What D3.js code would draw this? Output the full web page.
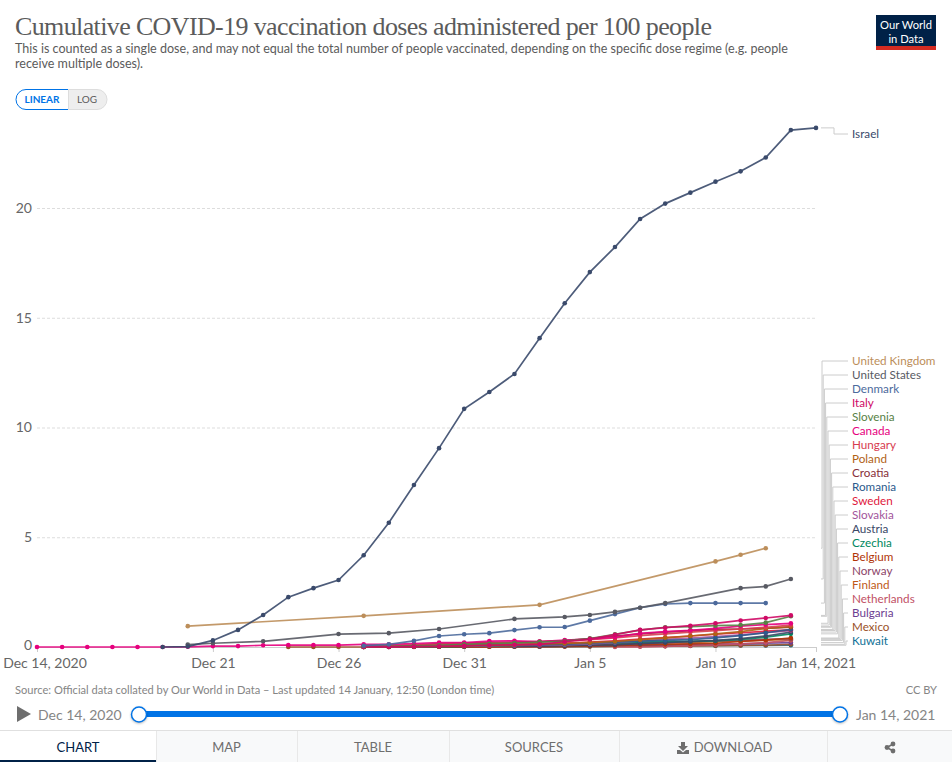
<!DOCTYPE html>
<html>
<head>
<meta charset="utf-8">
<style>
  html, body { margin: 0; padding: 0; background: #fff; }
  svg { display: block; }
  text { font-family: Lato, "Open Sans", sans-serif; }
</style>
</head>
<body>
<svg id="chart" width="952" height="762"></svg>
<script src="https://cdn.jsdelivr.net/npm/d3@7"></script>
<script>
// Values, one array per country, day by day from its start date.
// null = no report that day (the line just runs across it)
const israel = [0, 0.02, 0.3, 0.78, 1.46, 2.27, 2.68, 3.05, 4.18, 5.66, 7.38, 9.06, 10.85, 11.62, 12.44, 14.07, 15.66, 17.08, 18.22, 19.5, 20.2, 20.7, 21.2, 21.67, 22.3, 23.55, 23.65];
const unitedKingdom = [0.95, null, null, null, null, null, null, 1.42, null, null, null, null, null, null, 1.92, null, null, null, null, null, null, 3.9, 4.2, 4.5];
const unitedStates = [0.11, 0.17, null, 0.26, null, null, 0.59, null, 0.63, null, 0.82, null, null, 1.28, null, 1.37, 1.46, 1.6, 1.79, 2.0, null, null, 2.68, 2.76, 3.1];
const denmark = [0.06, 0.12, 0.28, 0.5, 0.58, 0.63, 0.77, 0.9, 0.91, 1.2, 1.5, 1.79, 1.96, 2.0, 2.0, 2.0, 2.0];
const italy = [0.01, 0.01, 0.02, 0.03, 0.05, 0.08, 0.1, 0.12, 0.24, 0.36, 0.56, 0.78, 0.88, 0.97, 1.08, 1.21, 1.32, 1.44];
const slovenia = [0.02, 0.03, 0.05, 0.08, 0.12, 0.15, 0.18, 0.22, 0.27, 0.38, 0.58, 0.77, 0.9, 0.93, 0.97, 1.0, 1.11, 1.4];
const canada = [0, 0, 0, 0, 0, 0, 0.01, 0.04, 0.04, 0.08, 0.09, 0.09, 0.09, 0.12, 0.12, 0.16, 0.2, 0.2, 0.27, 0.28, 0.25, 0.32, 0.36, 0.45, 0.62, 0.7, 0.76, 0.85, 0.95, 1.02, 1.08];
const hungary = [0.05, 0.07, 0.1, 0.13, 0.15, 0.18, 0.2, 0.24, 0.28, 0.34, 0.42, 0.52, 0.6, 0.68, 0.75, 0.82, 0.9, 1.0];
const poland = [0.01, 0.02, 0.03, 0.04, 0.06, 0.08, 0.1, 0.13, 0.16, 0.2, 0.25, 0.33, 0.42, 0.5, 0.6, 0.7, 0.85, 0.93];
const croatia = [0.02, 0.04, 0.08, 0.15, 0.18, 0.2, 0.22, 0.25, 0.29, 0.38, 0.5, 0.6, 0.68, 0.75, 0.8, 0.82, 0.85, 0.9];
const romania = [0.01, 0.02, 0.04, 0.06, 0.07, 0.08, 0.09, 0.1, 0.13, 0.17, 0.22, 0.27, 0.3, 0.34, 0.42, 0.52, 0.65, 0.8];
const sweden = [0.01, 0.02, 0.03, 0.05, 0.07, 0.1, 0.12, 0.15, 0.18, 0.22, 0.28, 0.36, 0.43, 0.5, 0.58, 0.65, 0.72, 0.78];
const slovakia = [0.01, 0.02, 0.03, 0.04, 0.05, 0.06, 0.07, 0.08, 0.1, 0.14, 0.2, 0.28, 0.35, 0.4, 0.47, 0.55, 0.65, 0.75];
const austria = [0.03, 0.04, 0.06, 0.08, 0.1, 0.15, 0.2, 0.25, 0.3, 0.38, 0.5, 0.68];
const czechia = [0, 0.01, 0.01, 0.02, 0.03, 0.05, 0.06, 0.08, 0.1, 0.14, 0.18, 0.22, 0.25, 0.26, 0.28, 0.35, 0.45, 0.6];
const belgium = [0, 0.01, 0.01, 0.01, 0.01, 0.02, 0.02, 0.03, 0.05, 0.07, 0.1, 0.12, 0.14, 0.17, 0.25, 0.32, 0.41];
const norway = [0, 0.01, 0.02, 0.03, 0.04, 0.05, 0.05, 0.06, 0.07, 0.1, 0.13, 0.17, 0.2, 0.25, 0.28, 0.3, 0.35, 0.38];
const finland = [0, 0.01, 0.02, 0.03, 0.04, 0.05, 0.06, 0.07, 0.09, 0.11, 0.14, 0.17, 0.19, 0.21, 0.24, 0.27, 0.31, 0.35];
const netherlands = [0, 0.01, 0.03, 0.06, 0.1, 0.14, 0.2, 0.3];
const bulgaria = [0, 0, 0.01, 0.01, 0.01, 0.02, 0.02, 0.03, 0.04, 0.05, 0.07, 0.09, 0.1, 0.12, 0.13, 0.14, 0.17, 0.2];
const mexico = [0, 0, 0, 0, 0, 0, 0.01, 0.01, 0.01, 0.01, 0.02, 0.02, 0.02, 0.03, 0.03, 0.04, 0.05, 0.06, 0.07, 0.08, 0.12];
const kuwait = [0.01, 0.02, 0.03, 0.04, 0.05, 0.05, 0.06, 0.06, 0.07, 0.07, 0.08];

// legend order, top to bottom
const legendNames = ["United Kingdom", "United States", "Denmark", "Italy", "Slovenia", "Canada", "Hungary", "Poland", "Croatia", "Romania", "Sweden", "Slovakia", "Austria", "Czechia", "Belgium", "Norway", "Finland", "Netherlands", "Bulgaria", "Mexico", "Kuwait"];
const legendValues = [unitedKingdom, unitedStates, denmark, italy, slovenia, canada, hungary, poland, croatia, romania, sweden, slovakia, austria, czechia, belgium, norway, finland, netherlands, bulgaria, mexico, kuwait];
const legendStarts = ["2020-12-20", "2020-12-20", "2020-12-27", "2020-12-27", "2020-12-27", "2020-12-14", "2020-12-27", "2020-12-27", "2020-12-27", "2020-12-27", "2020-12-27", "2020-12-27", "2021-01-02", "2020-12-27", "2020-12-28", "2020-12-27", "2020-12-27", "2021-01-06", "2020-12-27", "2020-12-24", "2021-01-03"];
const legendColors = ["#BC8E5A", "#585a63", "#4C6A9C", "#CF0A66", "#578145", "#E6007E", "#D73C50", "#B16214", "#883039", "#2c5a8c", "#E0183C", "#A2559C", "#3a4766", "#00875E", "#B13507", "#8C4569", "#C05917", "#C15065", "#6D3E91", "#9A5129", "#0f6f96"];

const yTicks = [0, 5, 10, 15, 20];
const xTickDates = ["2020-12-14", "2020-12-21", "2020-12-26", "2020-12-31", "2021-01-05", "2021-01-10", "2021-01-14"];
const xTickLabels = ["Dec 14, 2020", "Dec 21", "Dec 26", "Dec 31", "Jan 5", "Jan 10", "Jan 14, 2021"];

const parseDay = d3.utcParse("%Y-%m-%d");
const svg = d3.select("#chart");

const x = d3.scaleUtc()
  .domain([parseDay("2020-12-14"), parseDay("2021-01-14")])
  .range([37, 816]);
const y = d3.scaleLinear()
  .domain([0, 20])
  .range([647, 208]);

// Header
svg.append("text").attr("x", 15).attr("y", 35)
  .attr("textLength", 697).attr("lengthAdjust", "spacing")
  .style("font-family", "'Liberation Serif', serif").style("font-size", "26px").attr("fill", "#5b5b5b")
  .text("Cumulative COVID-19 vaccination doses administered per 100 people");
svg.append("text").attr("x", 15).attr("y", 53)
  .style("font-size", "12.55px").attr("fill", "#5b5b5b")
  .text("This is counted as a single dose, and may not equal the total number of people vaccinated, depending on the specific dose regime (e.g. people");
svg.append("text").attr("x", 15).attr("y", 68)
  .style("font-size", "12.55px").attr("fill", "#5b5b5b")
  .text("receive multiple doses).");

// Logo
svg.append("rect").attr("x", 876).attr("y", 15).attr("width", 60).attr("height", 35).attr("fill", "#002147");
svg.append("rect").attr("x", 876).attr("y", 46).attr("width", 60).attr("height", 4).attr("fill", "#d42b21");
svg.append("text").attr("x", 906).attr("y", 28.5).attr("text-anchor", "middle")
  .style("font-size", "11.2px").attr("fill", "#fff").text("Our World");
svg.append("text").attr("x", 906).attr("y", 42.5).attr("text-anchor", "middle")
  .style("font-size", "11.2px").attr("fill", "#fff").text("in Data");

// Linear / log toggle
svg.append("path").attr("d", "M68.5,89.5H97a10,10 0 0 1 0,20H68.5Z").attr("fill", "#eee").attr("stroke", "#ddd");
svg.append("path").attr("d", "M68,89.5H26a10,10 0 0 0 0,20H68").attr("fill", "#fff").attr("stroke", "#0073e6");
svg.append("text").attr("x", 42).attr("y", 103).attr("text-anchor", "middle")
  .style("font-size", "10px").style("font-weight", "700").attr("fill", "#0073e6").text("LINEAR");
svg.append("text").attr("x", 87).attr("y", 103).attr("text-anchor", "middle")
  .style("font-size", "10px").attr("fill", "#5b5b5b").text("LOG");

// Axes
const yAxis = svg.append("g")
  .attr("transform", "translate(37,0)")
  .call(d3.axisLeft(y).tickValues(yTicks).tickSize(0).tickPadding(5));
yAxis.select(".domain").remove();
yAxis.selectAll("text").style("font-size", "14px").style("font-family", "Lato").attr("fill", "#666");
// the 0 sits a touch high so it clears the first date label
yAxis.selectAll("text").filter(d => d === 0).attr("y", -1.5);

const grid = svg.append("g")
  .call(d3.axisLeft(y).tickValues(yTicks.slice(1)).tickSize(-779).tickFormat(""))
  .attr("transform", "translate(37,0)");
grid.select(".domain").remove();
grid.selectAll("line").attr("stroke", "#ddd").attr("stroke-dasharray", "3,2");

const xAxis = svg.append("g")
  .attr("transform", "translate(0,647)")
  .call(d3.axisBottom(x)
    .tickValues(xTickDates.map(parseDay))
    .tickFormat((d, i) => xTickLabels[i])
    .tickSizeOuter(0).tickSize(5).tickPadding(6));
xAxis.select(".domain").attr("stroke", "#ccc");
xAxis.selectAll("line").attr("stroke", "#ccc");
xAxis.selectAll("text").style("font-size", "14px").style("font-family", "Lato").attr("fill", "#666")
  .attr("dx", (d, i) => i === 0 ? 7.5 : 0);

// Put the per-country arrays on real dates
function toPoints(values, start) {
  const first = parseDay(start);
  return values
    .map((v, i) => ({ date: d3.utcDay.offset(first, i), value: v }))
    .filter(d => d.value !== null);
}

const lineGen = d3.line().x(d => x(d.date)).y(d => y(d.value));

const allSeries = legendNames.map((name, i) => ({
  name: name,
  color: legendColors[i],
  points: toPoints(legendValues[i], legendStarts[i]),
  row: i
}));
const israelSeries = { name: "Israel", color: "#3a4a6b", points: toPoints(israel, "2020-12-19"), row: -1 };

// lower legend rows go underneath, Israel on top
const drawOrder = allSeries.slice().reverse().concat([israelSeries]);

const seriesG = svg.append("g").selectAll("g").data(drawOrder).join("g");
seriesG.append("path")
  .attr("d", d => lineGen(d.points))
  .attr("fill", "none")
  .attr("stroke", d => d.color)
  .attr("stroke-width", 1.7)
  .attr("stroke-opacity", 0.9);
seriesG.selectAll("circle").data(d => d.points.map(p => ({ p: p, color: d.color }))).join("circle")
  .attr("cx", d => x(d.p.date))
  .attr("cy", d => y(d.p.value))
  .attr("r", 2.3)
  .attr("fill", d => d.color);

// Legend with the elbow connectors
const legendRowY = i => 361 + 14 * i;
const connectors = svg.append("g").attr("fill", "none").attr("stroke", "#ccc").attr("stroke-width", 1);
allSeries.forEach((s, i) => {
  const last = s.points[s.points.length - 1];
  const elbow = 822 + i * 1.2;
  connectors.append("path")
    .attr("d", d3.line()([[821, y(last.value)], [elbow, y(last.value)], [elbow, legendRowY(i)], [848, legendRowY(i)]]));
  svg.append("text").attr("x", 852).attr("y", legendRowY(i) + 4)
    .style("font-size", "11.7px").attr("fill", s.color).text(s.name);
});
const israelLast = israelSeries.points[israelSeries.points.length - 1];
connectors.append("path")
  .attr("d", d3.line()([[821, y(israelLast.value)], [834, y(israelLast.value)], [834, 134], [848, 134]]));
svg.append("text").attr("x", 852).attr("y", 138)
  .style("font-size", "11.7px").attr("fill", israelSeries.color).text("Israel");

// Footer
svg.append("text").attr("x", 15).attr("y", 694)
  .style("font-size", "11.1px").attr("fill", "#858585")
  .text("Source: Official data collated by Our World in Data – Last updated 14 January, 12:50 (London time)");
svg.append("text").attr("x", 937).attr("y", 694).attr("text-anchor", "end")
  .style("font-size", "11.1px").attr("fill", "#858585").text("CC BY");

// Timeline
svg.append("path").attr("d", "M17,706L31,714L17,722Z").attr("fill", "#6e6e6e");
svg.append("text").attr("x", 38).attr("y", 720)
  .style("font-size", "14px").attr("fill", "#858585").text("Dec 14, 2020");
svg.append("text").attr("x", 856).attr("y", 720)
  .style("font-size", "14px").attr("fill", "#858585").text("Jan 14, 2021");
svg.append("rect").attr("x", 139).attr("y", 711).attr("width", 701).attr("height", 6).attr("fill", "#0073e6");
[139, 840].forEach(cx => {
  svg.append("circle").attr("cx", cx).attr("cy", 714.5).attr("r", 7.5)
    .attr("fill", "#fff").attr("stroke", "#0073e6").attr("stroke-width", 1.5)
    .style("filter", "drop-shadow(0 1px 1px rgba(0,0,0,0.25))");
});

// Tabs along the bottom
const tabNames = ["CHART", "MAP", "TABLE", "SOURCES", "DOWNLOAD", ""];
const tabEdges = [0, 156, 297, 449, 619, 827, 952];
svg.append("rect").attr("x", 0).attr("y", 730).attr("width", 952).attr("height", 32).attr("fill", "#f8f9fa");
svg.append("line").attr("x1", 0).attr("x2", 952).attr("y1", 730.5).attr("y2", 730.5).attr("stroke", "#e0e0e0");
tabNames.forEach((name, i) => {
  const left = tabEdges[i], right = tabEdges[i + 1];
  if (i === 0) {
    svg.append("rect").attr("x", left).attr("y", 731).attr("width", right - left).attr("height", 31).attr("fill", "#fff");
    svg.append("rect").attr("x", left).attr("y", 760).attr("width", right - left).attr("height", 2).attr("fill", "#002147");
  } else {
    svg.append("line").attr("x1", left + 0.5).attr("x2", left + 0.5).attr("y1", 731).attr("y2", 762).attr("stroke", "#e8e8e8");
  }
  svg.append("text").attr("x", i === 4 ? (left + right) / 2 + 10 : (left + right) / 2).attr("y", 752)
    .attr("text-anchor", "middle").style("font-size", "13px")
    .attr("fill", i === 0 ? "#002147" : "#6e6e6e").text(name);
});
// Download icon
svg.append("path").attr("d", "M681,742h4v4h3l-5,5l-5,-5h3ZM677,750h3l3,2.5l3,-2.5h3v4h-12Z").attr("fill", "#6e6e6e");
// Share icon
svg.append("path").attr("d", "M893,744L887,747.5L893,751").attr("fill", "none").attr("stroke", "#6e6e6e").attr("stroke-width", 1.5);
[[893, 744], [887, 747.5], [893, 751]].forEach(c => {
  svg.append("circle").attr("cx", c[0]).attr("cy", c[1]).attr("r", 2.4).attr("fill", "#6e6e6e");
});
</script>
</body>
</html>
